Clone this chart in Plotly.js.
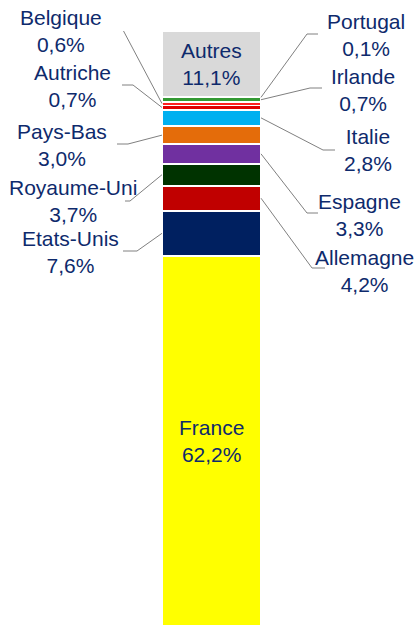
<!DOCTYPE html>
<html><head><meta charset="utf-8">
<script src="https://cdn.plot.ly/plotly-3.0.1.min.js"></script>
<style>html,body{margin:0;padding:0;background:#fff;}#chart{width:417px;height:626px;}</style>
</head><body><div id="chart"></div>
<script>
// Data (bottom to top of the stacked bar)
const countries = ['France','Etats-Unis','Allemagne','Royaume-Uni','Espagne','Pays-Bas','Italie','Autriche','Belgique','Irlande','Portugal','Autres'];
const shares = [62.2, 7.6, 4.2, 3.7, 3.3, 3.0, 2.8, 0.7, 0.6, 0.7, 0.1, 11.1];

// Styles
const colors = ['#FFFF00','#002060','#C00000','#003300','#7030A0','#E46C0A','#00B0F0','#E00000','#FF2020','#339933','#E040C0','#D9D9D9'];
const lineWidths = [2,2,2,2,2,2,2,1.5,1.5,1.5,0.5,2];
const W = 417, H = 626, MT = 31, MB = 0;
const barPx = 99, barCenterPx = 211.5;
const x0 = -barCenterPx / barPx, x1 = (W - barCenterPx) / barPx;
const pxX = px => x0 + px / barPx;
const pxY = py => (H - MB - py) / (H - MT - MB) * 100;

// Callout label placement (pixels): side, label centre, elbow start/end
const callouts = {
  'Belgique':    {side:'L', lx:61,  ly:31,  ex1:112, ex2:123, ey:30},
  'Autriche':    {side:'L', lx:72,  ly:86,  ex1:122, ex2:133, ey:85},
  'Pays-Bas':    {side:'L', lx:62,  ly:145, ex1:117, ex2:128, ey:144},
  'Royaume-Uni': {side:'L', lx:73,  ly:201, ex1:125, ex2:130, ey:201},
  'Etats-Unis':  {side:'L', lx:70,  ly:252, ex1:123, ex2:137, ey:251},
  'Portugal':    {side:'R', lx:366, ly:35,  ex1:318, ex2:307, ey:34},
  'Irlande':     {side:'R', lx:363, ly:90,  ex1:322, ex2:310, ey:88},
  'Italie':      {side:'R', lx:368, ly:150, ex1:335, ex2:323, ey:150},
  'Espagne':     {side:'R', lx:359, ly:215, ex1:318, ex2:307, ey:213},
  'Allemagne':   {side:'R', lx:364, ly:271, ex1:325, ex2:312, ey:268}
};
const inside = ['France','Autres'];

const fmt = v => v.toFixed(1).replace('.', ',') + '%';
const font = {family:'Liberation Sans, Arial, sans-serif', size:21, color:'#0E2A6C'};

const traces = countries.map((c, i) => ({
  type:'bar', x:[0], y:[shares[i]], width:[1], name:c,
  marker:{color:colors[i], line:{color:'#FFFFFF', width:lineWidths[i]}},
  hoverinfo:'skip', showlegend:false
}));

const annotations = [], shapes = [];
let cum = 0;
countries.forEach((c, i) => {
  const mid = cum + shares[i] / 2;
  cum += shares[i];
  if (inside.includes(c)) {
    annotations.push({x:0, y:mid, xref:'x', yref:'y', text:c + '<br>' + fmt(shares[i]),
      showarrow:false, font:font, align:'center', xanchor:'center', yanchor:'middle'});
  } else if (callouts[c]) {
    const o = callouts[c];
    annotations.push({x:pxX(o.lx), y:pxY(o.ly), xref:'x', yref:'y', text:c + '<br>' + fmt(shares[i]),
      showarrow:false, font:font, align:'center', xanchor:'center', yanchor:'middle'});
    const edge = o.side === 'L' ? -0.5 : 0.5;
    shapes.push({type:'path', xref:'x', yref:'y',
      path:`M ${pxX(o.ex1)},${pxY(o.ey)} L ${pxX(o.ex2)},${pxY(o.ey)} L ${edge},${mid}`,
      line:{color:'#808080', width:1}});
  }
});

const layout = {
  width:W, height:H, barmode:'stack', bargap:0,
  margin:{l:0, r:0, t:MT, b:MB, pad:0},
  paper_bgcolor:'#FFFFFF', plot_bgcolor:'#FFFFFF',
  xaxis:{range:[x0, x1], visible:false, fixedrange:true},
  yaxis:{range:[0, 100], visible:false, fixedrange:true},
  annotations:annotations, shapes:shapes, showlegend:false
};
Plotly.newPlot('chart', traces, layout, {displayModeBar:false, staticPlot:true});
</script></body></html>
